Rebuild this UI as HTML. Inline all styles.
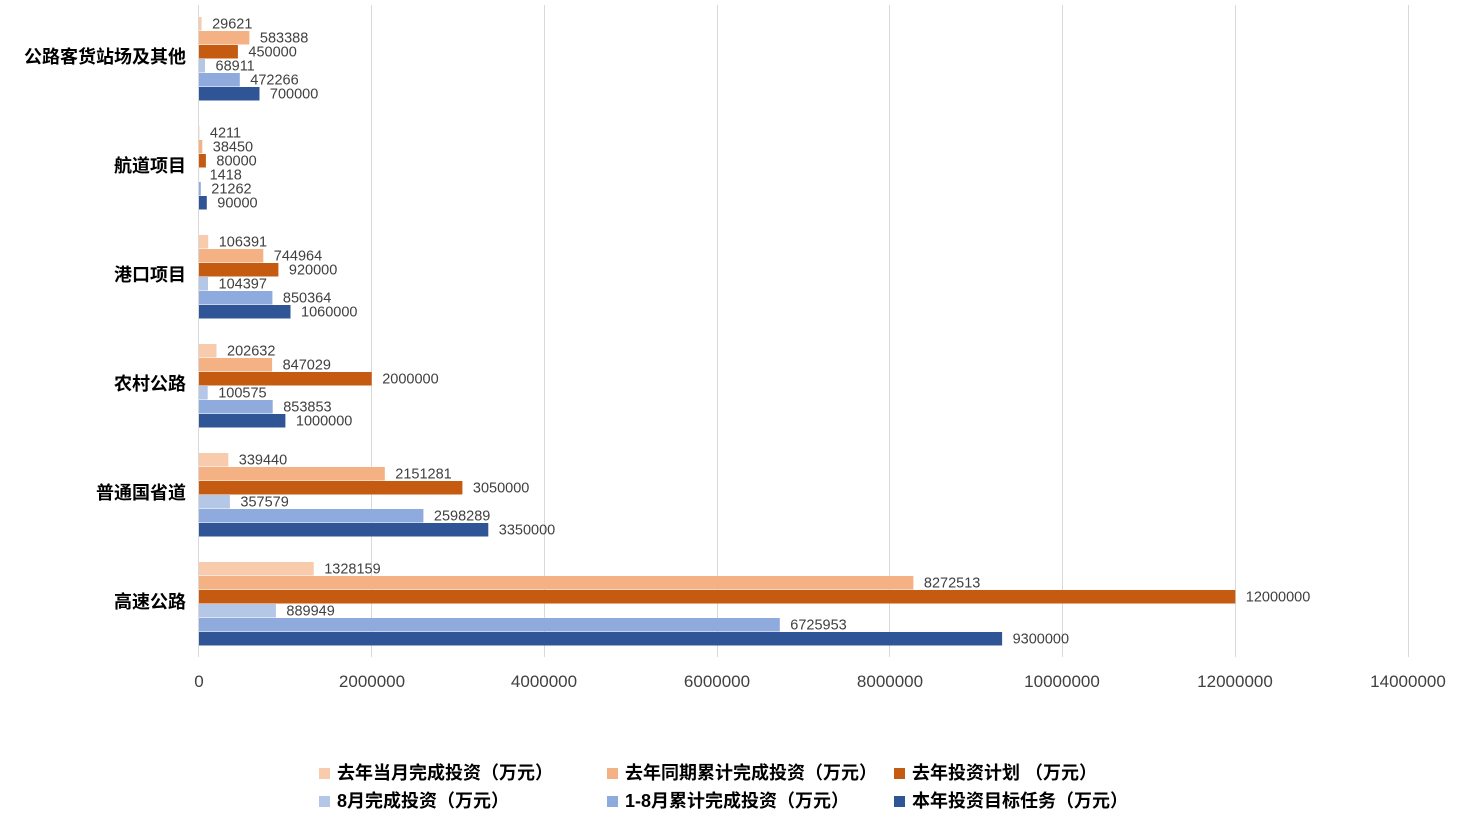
<!DOCTYPE html>
<html><head><meta charset="utf-8"><style>
body{margin:0;background:#fff}
svg{display:block}
.d{font:14.5px "Liberation Sans",sans-serif;fill:#404040}
.t{font:17px "Liberation Sans",sans-serif;fill:#404040}
.c{font:bold 18px "Liberation Sans","Noto Sans CJK SC",sans-serif;fill:#000}
.l{font:bold 18px "Liberation Sans","Noto Sans CJK SC",sans-serif;fill:#000}
</style></head><body>
<svg id="s" width="1472" height="823" xmlns="http://www.w3.org/2000/svg">
<g stroke="#d9d9d9" stroke-width="1">
<line x1="371.5" y1="5" x2="371.5" y2="657"/><line x1="544.5" y1="5" x2="544.5" y2="657"/>
<line x1="717.5" y1="5" x2="717.5" y2="657"/><line x1="889.5" y1="5" x2="889.5" y2="657"/>
<line x1="1062.5" y1="5" x2="1062.5" y2="657"/><line x1="1235.5" y1="5" x2="1235.5" y2="657"/>
<line x1="1408.5" y1="5" x2="1408.5" y2="657"/><line x1="198.5" y1="5" x2="198.5" y2="657"/>
</g>
<g id="bars"></g>
<g class="t" text-anchor="middle">
<text x="199" y="687">0</text><text x="372" y="687">2000000</text><text x="544" y="687">4000000</text>
<text x="717" y="687">6000000</text><text x="890" y="687">8000000</text><text x="1062" y="687">10000000</text>
<text x="1235" y="687">12000000</text><text x="1408" y="687">14000000</text>
</g>
<g class="l">
<rect x="319" y="768" width="11" height="11" fill="#f8cbad"/><text x="337" y="779">去年当月完成投资（万元）</text>
<rect x="607" y="768" width="11" height="11" fill="#f4b183"/><text x="625" y="779">去年同期累计完成投资（万元）</text>
<rect x="894" y="768" width="11" height="11" fill="#c55a11"/><text x="912" y="779">去年投资计划 （万元）</text>
<rect x="319" y="796" width="11" height="11" fill="#b4c7e7"/><text x="337" y="807">8月完成投资（万元）</text>
<rect x="607" y="796" width="11" height="11" fill="#8faadc"/><text x="625" y="807">1-8月累计完成投资（万元）</text>
<rect x="894" y="796" width="11" height="11" fill="#2f5597"/><text x="912" y="807">本年投资目标任务（万元）</text>
</g>
</svg>
<script>
var cats=["公路客货站场及其他","航道项目","港口项目","农村公路","普通国省道","高速公路"];
var d=[[29621,583388,450000,68911,472266,700000],[4211,38450,80000,1418,21262,90000],
[106391,744964,920000,104397,850364,1060000],[202632,847029,2000000,100575,853853,1000000],
[339440,2151281,3050000,357579,2598289,3350000],[1328159,8272513,12000000,889949,6725953,9300000]];
var col=["#f8cbad","#f4b183","#c55a11","#b4c7e7","#8faadc","#2f5597"];
var h="";
for(var i=0;i<6;i++){var y0=17+i*109;
h+='<text class="c" x="186" y="'+(y0+46)+'" text-anchor="end">'+cats[i]+'</text>';
for(var j=0;j<6;j++){var w=d[i][j]*1209/14e6,y=y0+j*14;
h+='<rect x="199" y="'+y+'" width="'+w.toFixed(1)+'" height="13.5" fill="'+col[j]+'"/>';
h+='<text class="d" x="'+(199+w+10.5).toFixed(1)+'" y="'+(y+11.5)+'">'+d[i][j]+'</text>';}}
document.getElementById("bars").innerHTML=h;
</script>
</body></html>
